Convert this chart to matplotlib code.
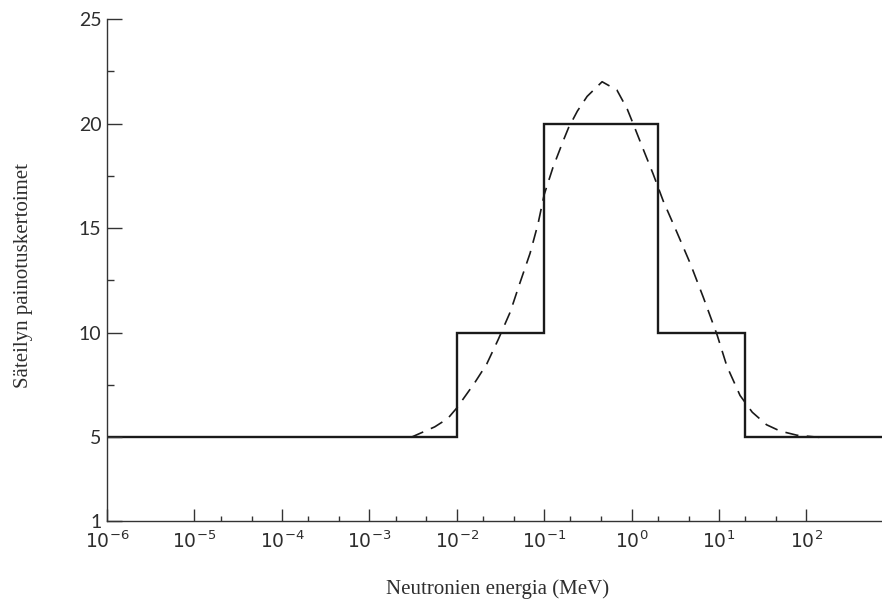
import matplotlib
matplotlib.use("Agg")
import matplotlib.pyplot as plt
import numpy as np

# Step function: edges (MeV) and weighting factor in each interval
step_edges = [1e-6, 1e-2, 1e-1, 2.0, 20.0, 731.0]
step_values = [5, 10, 20, 10, 5]

# Dashed continuous curve (MeV, factor)
curve_energy = [
    0.0030, 0.0056, 0.0079, 0.010, 0.016, 0.022, 0.030, 0.041, 0.052,
    0.069, 0.085, 0.10, 0.126, 0.166, 0.19, 0.24, 0.31, 0.46, 0.68,
    0.89, 1.04, 1.35, 1.76, 2.3, 3.3, 4.7, 6.6, 9.5, 12.3, 17.4, 24.0,
    35.0, 50.0, 78.0, 140.0,
]
curve_factor = [
    5.0, 5.5, 5.9, 6.4, 7.6, 8.5, 9.7, 11.0, 12.3,
    13.8, 15.2, 16.6, 17.9, 19.2, 19.8, 20.6, 21.3, 22.0, 21.6,
    20.7, 20.0, 18.8, 17.6, 16.3, 14.8, 13.3, 11.7, 9.9, 8.4, 7.0, 6.2,
    5.6, 5.3, 5.1, 5.0,
]

y_ticks = [1, 5, 10, 15, 20, 25]
y_minor = [7.5, 12.5, 17.5, 22.5]
x_exponents = [-6, -5, -4, -3, -2, -1, 0, 1, 2]

ink = "#1a1a1a"
label_color = "#2e2e2e"

plt.rcParams["mathtext.fontset"] = "custom"
plt.rcParams["mathtext.rm"] = "Lato"
plt.rcParams["mathtext.it"] = "Lato"
plt.rcParams["mathtext.bf"] = "Lato"

fig = plt.figure(figsize=(8.82, 6.08), dpi=100)
ax = fig.add_axes([107 / 882, 87 / 608, 775 / 882, 502 / 608])

ax.stairs(step_values, step_edges, baseline=None, color=ink, linewidth=1.7)
ax.plot(curve_energy, curve_factor, color=ink, linewidth=1.2,
        linestyle=(0, (8, 5)))

ax.set_xscale("log")
ax.set_xlim(1e-6, 731)
ax.set_ylim(1, 25)

for side in ["top", "right"]:
    ax.spines[side].set_visible(False)
for side in ["left", "bottom"]:
    ax.spines[side].set_linewidth(1.0)
    ax.spines[side].set_color("#333333")

ax.set_yticks(y_ticks)
ax.set_yticks(y_minor, minor=True)
ax.set_yticklabels([str(v) for v in y_ticks], family="Lato",
                   fontsize=14, color=label_color)

ax.set_xticks([10.0 ** e for e in x_exponents])
ax.set_xticklabels([r"$\mathregular{10^{%d}}$" % e for e in x_exponents],
                   fontsize=13.5, color=label_color)
minor_x = []
for e in range(-5, 2):
    minor_x += [2 * 10.0 ** e, 4.5 * 10.0 ** e]
ax.set_xticks(minor_x, minor=True)
ax.xaxis.set_minor_formatter(matplotlib.ticker.NullFormatter())

ax.tick_params(axis="y", which="major", direction="in", length=11, width=1.0,
               pad=4, color="#333333")
ax.tick_params(axis="y", which="minor", direction="in", length=5, width=1.0,
               color="#333333")
ax.tick_params(axis="x", which="major", direction="in", length=9, width=1.0,
               pad=7, color="#333333")
ax.tick_params(axis="x", which="minor", direction="in", length=3.5, width=1.0,
               color="#333333")

ax.set_xlabel("Neutronien energia (MeV)", family="Liberation Serif",
              fontsize=15, color=label_color)
ax.xaxis.set_label_coords(0.5045, -0.117)
ax.set_ylabel("Säteilyn painotuskertoimet", family="Liberation Serif",
              fontsize=15, color=label_color)
ax.yaxis.set_label_coords(-0.0955, 0.49)

fig.savefig("out.png", dpi=100)
